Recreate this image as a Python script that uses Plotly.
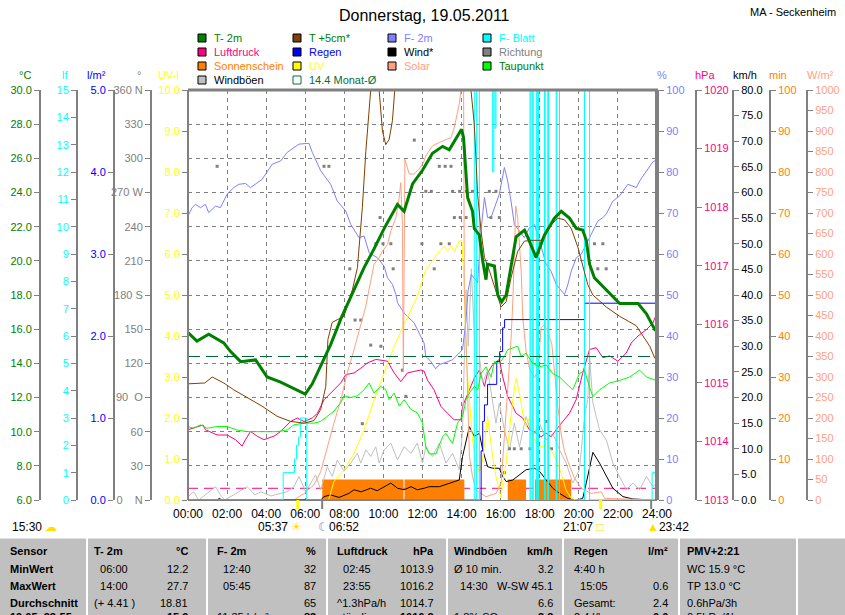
import plotly.graph_objects as go

# ---------------- data (x = hours since midnight) ----------------
time_labels = ["00:00", "02:00", "04:00", "06:00", "08:00", "10:00", "12:00",
               "14:00", "16:00", "18:00", "20:00", "22:00", "24:00"]

t2m_h = [0.00, 0.46, 1.06, 1.83, 2.17, 2.69, 3.46, 4.05, 4.74, 5.42,
         6.00, 6.36, 6.79, 7.30, 7.82, 8.33, 9.01, 9.52, 10.04, 10.72,
         11.06, 11.49, 12.00, 12.51, 13.03, 13.37, 14.00, 14.10, 14.20, 14.31,
         14.56, 14.65, 14.91, 15.08, 15.25, 15.33, 15.68, 15.85, 16.05, 16.28,
         16.79, 17.22, 17.38, 17.81, 18.24, 18.75, 19.10, 19.52, 19.87, 20.20,
         20.38, 20.55, 20.80, 21.15, 21.66, 22.09, 23.03, 23.46, 23.92]
t2m_v = [15.8, 15.3, 15.7, 15.2, 14.7, 14.1, 14.2, 13.2, 12.9, 12.5,
         12.2, 12.8, 13.9, 15.1, 16.6, 17.9, 19.6, 20.7, 21.9, 23.3,
         22.9, 24.5, 25.3, 26.3, 26.7, 26.5, 27.7, 27.2, 25.7, 23.7,
         22.9, 21.9, 21.5, 20.0, 18.9, 19.8, 19.7, 18.0, 17.6, 18.0,
         21.4, 21.8, 21.4, 20.2, 21.5, 22.5, 22.9, 22.5, 21.9, 21.8,
         21.2, 19.8, 19.0, 18.6, 18.0, 17.5, 17.5, 16.9, 15.9]

t5_h = [0.00, 0.86, 1.24, 1.83, 2.34, 3.19, 3.78, 4.56, 5.25, 5.94,
        6.45, 6.79, 7.05, 7.16, 7.38, 7.98, 8.41, 8.67, 8.92, 9.10,
        9.27, 9.35, 9.55, 9.78, 9.95, 10.12, 10.29, 10.46, 10.58, 11.00,
        12.00, 13.00, 14.00, 14.48, 14.65, 14.82, 15.00, 15.17, 15.43, 15.76,
        16.02, 16.28, 16.53, 16.87, 17.21, 17.56, 18.07, 18.41, 18.92, 19.27,
        19.61, 19.95, 20.20, 20.46, 20.72, 21.40, 22.09, 22.94, 23.63, 23.89]
t5_v = [12.8, 12.85, 13.2, 12.85, 12.45, 11.87, 11.5, 10.9, 10.6, 10.5,
        10.65, 11.3, 12.65, 15.4, 16.4, 16.75, 18.3, 19.6, 23.1, 26.4,
        29.2, 30.0, 31.5, 30.0, 27.6, 26.8, 27.1, 28.2, 30.0, 33.0,
        36.0, 37.0, 34.0, 30.0, 28.0, 23.9, 21.7, 20.2, 19.4, 18.2,
        17.3, 17.6, 19.0, 20.55, 21.15, 21.2, 21.2, 21.9, 22.5, 22.4,
        21.9, 20.8, 19.8, 18.6, 18.0, 17.3, 16.75, 16.2, 15.0, 14.3]

hum_h = [0.00, 0.21, 0.38, 0.64, 0.89, 1.06, 1.41, 1.66, 2.00, 2.34,
         2.60, 2.94, 3.20, 3.79, 4.31, 4.74, 5.08, 5.68, 6.19, 6.36,
         6.79, 7.30, 7.64, 8.07, 8.33, 8.75, 9.01, 9.27, 9.69, 10.04,
         10.21, 10.46, 10.64, 10.72, 11.06, 11.57, 12.08, 12.17, 12.43, 12.67,
         12.86, 13.54, 14.05, 14.23, 14.33, 14.50, 14.82, 15.00, 15.17, 15.33,
         15.51, 15.93, 16.19, 16.36, 16.53, 16.70, 16.96, 17.21, 17.47, 17.73,
         17.99, 18.33, 18.58, 18.84, 19.27, 19.44, 19.61, 19.87, 20.12, 20.38,
         20.63, 20.97, 21.23, 21.40, 21.74, 22.09, 22.51, 22.94, 23.11, 23.46,
         23.79, 24.00]
hum_v = [69.3, 71.3, 72.1, 71.3, 72.1, 70.1, 71.7, 71.3, 74.6, 76.2,
         77.0, 77.2, 76.2, 78.2, 81.9, 82.7, 84.8, 86.8, 87.0, 84.8,
         80.3, 77.0, 72.9, 70.5, 67.2, 64.0, 64.4, 60.3, 59.1, 57.0,
         54.2, 52.6, 50.1, 48.1, 45.6, 43.2, 38.3, 35.0, 33.8, 32.0,
         33.0, 34.2, 36.7, 44.0, 51.0, 55.0, 53.0, 66.0, 73.8, 68.9,
         68.9, 74.6, 81.1, 77.8, 72.9, 67.2, 65.6, 64.0, 66.4, 67.2,
         63.2, 57.5, 55.8, 52.6, 50.1, 52.6, 55.8, 59.1, 59.9, 62.3,
         64.8, 68.0, 68.9, 69.7, 72.9, 74.2, 77.0, 76.2, 77.8, 80.3,
         82.5, 83.0]

pres_h = [0.00, 0.77, 0.89, 1.49, 2.00, 2.43, 2.77, 2.94, 3.20, 3.54,
          3.88, 4.40, 4.74, 5.25, 5.59, 5.94, 6.36, 6.62, 6.96, 7.30,
          7.82, 8.07, 8.50, 8.84, 9.18, 9.61, 10.21, 10.55, 10.89, 11.23,
          11.57, 11.92, 12.08, 12.25, 12.59, 12.94, 13.28, 13.62, 13.97, 14.05,
          14.40, 14.65, 14.91, 15.17, 15.33, 15.59, 15.93, 16.10, 16.36, 16.79,
          17.13, 17.47, 17.82, 18.07, 18.33, 18.58, 18.84, 19.18, 19.52, 19.86,
          20.20, 20.55, 20.89, 21.23, 21.57, 22.00, 22.43, 22.68, 23.03, 23.46,
          23.79, 23.97]
pres_v = [1014.20, 1014.28, 1014.20, 1014.11, 1014.11, 1014.03, 1013.92, 1014.03, 1014.17, 1014.09,
          1014.03, 1014.09, 1014.17, 1014.34, 1014.40, 1014.34, 1014.40, 1014.48, 1014.71, 1014.83,
          1015.00, 1015.14, 1015.17, 1015.25, 1015.34, 1015.40, 1015.37, 1015.17, 1015.02, 1015.17,
          1015.20, 1015.22, 1015.20, 1015.05, 1014.88, 1014.60, 1014.48, 1014.37, 1014.37, 1014.60,
          1014.88, 1015.08, 1015.22, 1014.94, 1015.17, 1015.31, 1015.40, 1015.11, 1014.77, 1014.48,
          1014.40, 1014.20, 1014.14, 1014.08, 1014.14, 1014.08, 1014.20, 1014.34, 1014.48, 1014.71,
          1015.17, 1015.57, 1015.60, 1015.43, 1015.46, 1015.37, 1015.51, 1015.68, 1015.80, 1015.91,
          1016.02, 1016.17]

rain_h = [0.00, 14.90, 15.00, 15.08, 15.17, 15.33, 15.80, 15.95, 16.10, 16.20, 20.30, 24.00]
rain_v = [0.00, 0.00, 0.60, 0.96, 1.16, 1.41, 1.69, 1.81, 2.10, 2.20, 2.40, 2.40]

wind_h = [0.00, 1.49, 1.60, 1.75, 6.80, 6.95, 7.30, 7.73, 8.24, 8.50,
          8.86, 9.35, 9.68, 10.04, 10.38, 10.72, 11.06, 11.41, 11.74, 12.09,
          12.34, 12.86, 13.37, 13.88, 14.05, 14.40, 14.65, 14.91, 15.08, 15.33,
          15.59, 15.93, 16.10, 16.28, 16.62, 16.96, 17.30, 17.73, 17.99, 18.33,
          18.67, 19.01, 19.44, 19.87, 20.20, 20.38, 20.55, 20.72, 21.06, 21.41,
          21.74, 22.26, 22.77, 23.78, 24.00]
wind_v = [0.0, 0.0, 0.3, 0.0, 0.0, 0.65, 1.0, 0.5, 1.3, 2.0,
          1.6, 2.3, 1.8, 2.6, 3.3, 2.3, 2.0, 2.6, 2.0, 2.3,
          2.6, 2.6, 3.3, 3.9, 8.5, 14.3, 12.4, 13.0, 9.8, 6.5,
          6.2, 6.2, 4.6, 3.6, 3.9, 4.9, 5.9, 6.2, 5.6, 3.9,
          2.3, 1.3, 0.3, 0.0, 0.3, 3.3, 6.5, 9.3, 7.2, 4.6,
          2.3, 0.65, 0.2, 0.0, 0.0]

gust_h = [0.00, 0.29, 0.55, 1.41, 1.66, 1.88, 2.60, 3.03, 3.42, 3.73,
          4.24, 4.74, 5.06, 5.42, 5.68, 6.02, 6.53, 6.79, 7.13, 7.38,
          7.64, 7.98, 8.33, 8.67, 8.84, 9.10, 9.35, 9.61, 9.78, 10.04,
          10.38, 10.72, 11.06, 11.41, 11.74, 12.00, 12.17, 12.51, 12.86, 13.20,
          13.54, 13.88, 14.05, 14.23, 14.34, 14.50, 14.70, 14.91, 15.08, 15.33,
          15.59, 15.76, 15.93, 16.19, 16.45, 16.70, 16.96, 17.30, 17.64, 17.99,
          18.33, 18.67, 19.01, 19.35, 19.69, 20.03, 20.29, 20.46, 20.55, 20.72,
          21.06, 21.41, 21.74, 22.09, 22.43, 22.77, 23.11, 23.46, 23.79, 24.00]
gust_v = [0.65, 1.6, 0.0, 2.6, 1.0, 0.0, 1.6, 2.6, 1.0, 1.6,
          0.8, 1.3, 1.6, 2.6, 4.6, 1.6, 4.9, 2.0, 6.5, 4.6,
          7.8, 5.6, 7.2, 9.1, 7.2, 9.8, 8.5, 10.4, 7.2, 9.8,
          11.1, 7.8, 10.4, 9.1, 11.1, 7.2, 10.4, 8.5, 11.1, 7.2,
          9.1, 5.9, 13.7, 41.0, 30.0, 45.1, 28.0, 28.0, 22.8, 25.4,
          18.9, 15.0, 18.9, 13.7, 9.8, 15.0, 10.4, 16.3, 12.4, 15.0,
          11.7, 13.0, 9.8, 7.2, 3.3, 5.9, 16.3, 19.6, 28.0, 18.9,
          13.7, 11.7, 7.2, 4.6, 2.0, 3.3, 2.0, 4.6, 2.6, 3.3]

uv_h = [0.00, 7.20, 7.47, 7.98, 8.50, 9.01, 9.52, 10.04, 10.55, 10.97,
        11.41, 11.74, 12.05, 12.17, 12.51, 12.86, 13.11, 13.28, 13.46, 13.63,
        13.88, 14.02, 14.14, 14.23, 14.40, 14.56, 14.74, 14.91, 15.08, 15.25,
        15.33, 15.59, 15.76, 15.93, 16.02, 16.10, 16.28, 16.45, 16.62, 16.79,
        16.96, 17.13, 17.30, 17.47, 17.64, 17.82, 17.99, 18.33, 18.58, 18.84,
        19.10, 19.35, 19.61, 19.87, 24.00]
uv_v = [0.0, 0.0, 0.45, 0.73, 1.14, 1.71, 2.44, 3.10, 3.75, 4.20,
        4.65, 4.97, 5.46, 5.62, 5.83, 6.07, 6.19, 6.07, 6.19, 6.07,
        6.32, 6.32, 5.13, 3.59, 2.44, 1.47, 0.90, 0.69, 0.98, 1.63,
        2.04, 1.06, 0.57, 0.24, 0.05, 0.41, 0.90, 1.71, 2.44, 2.97,
        2.61, 2.12, 1.79, 2.00, 1.55, 1.39, 1.30, 1.30, 1.22, 0.98,
        0.65, 0.24, 0.04, 0.0, 0.0]

solar_h = [0.00, 5.42, 5.94, 6.45, 6.79, 7.13, 7.47, 7.82, 8.15, 8.50,
           8.84, 9.10, 9.27, 9.52, 9.78, 9.95, 10.21, 10.38, 10.64, 10.81,
           10.89, 10.97, 11.02, 11.10, 11.32, 11.57, 11.83, 12.05, 12.17, 12.51,
           12.86, 13.20, 13.46, 13.63, 13.79, 13.88, 13.97, 14.04, 14.10, 14.14,
           14.23, 14.31, 14.40, 14.56, 14.74, 15.25, 15.76, 16.02, 16.19, 16.36,
           16.53, 16.62, 16.70, 16.77, 16.87, 16.96, 17.05, 17.13, 17.30, 17.47,
           17.73, 17.90, 17.99, 18.07, 18.24, 18.41, 18.62, 18.75, 18.92, 19.10,
           19.27, 19.44, 19.78, 20.12, 20.63, 21.15, 21.32, 24.00]
solar_v = [0, 0, 16, 37, 69, 130, 188, 244, 310, 367,
           424, 473, 515, 575, 591, 607, 623, 656, 689, 738,
           774, 672, 314, 831, 795, 795, 807, 823, 839, 864,
           872, 878, 884, 909, 941, 966, 998, 1050, 1050, 513,
           391, 228, 106, 57, 24, 8, 16, 41, 147, 269,
           391, 481, 600, 717, 689, 632, 558, 444, 363, 322,
           298, 314, 363, 420, 428, 411, 379, 314, 232, 159,
           118, 94, 53, 29, 16, 20, 4, 0]

dew_h = [0.00, 0.29, 0.64, 0.97, 1.49, 2.00, 2.51, 3.03, 3.54, 4.05,
         4.56, 5.08, 5.42, 5.93, 6.45, 6.79, 7.13, 7.47, 7.82, 7.98,
         8.33, 8.67, 9.01, 9.27, 9.52, 9.87, 10.12, 10.29, 10.55, 10.81,
         11.06, 11.41, 11.74, 11.83, 12.00, 12.17, 12.34, 12.69, 13.03, 13.20,
         13.54, 13.79, 14.05, 14.23, 14.40, 14.65, 14.82, 15.00, 15.25, 15.51,
         15.68, 15.93, 16.19, 16.36, 16.62, 16.87, 17.05, 17.30, 17.64, 17.99,
         18.33, 18.67, 19.01, 19.35, 19.69, 20.03, 20.29, 20.55, 20.72, 21.06,
         21.57, 22.09, 22.60, 23.11, 23.46, 23.97]
dew_v = [10.3, 10.2, 10.4, 10.2, 10.3, 10.3, 10.1, 10.0, 10.0, 10.0,
         10.0, 10.1, 10.4, 10.5, 10.5, 10.6, 10.9, 11.2, 11.7, 12.1,
         12.0, 12.1, 12.45, 12.85, 12.26, 12.65, 12.45, 11.87, 12.26, 11.5,
         11.87, 11.3, 11.1, 10.9, 10.5, 9.1, 8.7, 8.7, 9.7, 9.9,
         9.3, 10.5, 10.9, 11.87, 12.26, 12.65, 12.45, 13.4, 13.8, 13.2,
         14.1, 14.0, 14.4, 14.8, 14.9, 15.0, 14.4, 14.6, 14.0, 13.8,
         13.9, 13.4, 13.2, 12.85, 12.45, 13.4, 13.6, 12.6, 12.05, 12.45,
         12.85, 13.0, 13.2, 13.6, 13.2, 13.0]

leaf_h = [0.00, 4.87, 5.45, 5.55, 5.65, 5.75, 6.08, 14.65, 14.77, 14.91,
          15.59, 15.65, 15.71, 15.76, 17.50, 17.55, 17.62, 17.67, 17.82, 17.86,
          17.90, 17.94, 18.24, 18.28, 18.41, 18.45, 18.84, 18.88, 19.01, 20.29,
          20.55, 23.75, 24.00]
leaf_v = [0, 1.0, 1.5, 2.0, 2.3, 3.0, 0, 15, 0, 15,
          12, 15, 13.6, 15, 0, 15, 0, 15, 0, 15,
          0, 15, 0, 15, 0, 15, 0, 15, 0, 15,
          0, 1.0, 1.0]

dir_h = [1.49, 6.96, 7.21, 8.28, 8.55, 8.84, 8.92, 9.35, 9.61, 9.83,
         9.87, 9.98, 10.38, 10.50, 10.97, 11.15, 11.58, 11.97, 12.17, 12.45,
         12.60, 12.86, 12.94, 13.16, 13.37, 13.46, 13.54, 13.63, 13.90, 13.93,
         14.23, 14.25, 14.56, 15.42, 15.50, 15.76, 15.93, 16.19, 16.45, 16.70,
         17.05, 17.50, 18.33, 18.60, 20.38, 20.80, 20.97, 21.23, 21.40]
dir_v = [293, 293, 293, 203, 158, 158, 67, 136, 225, 248,
         135, 225, 225, 203, 114, 91, 316, 225, 271, 271,
         203, 293, 225, 293, 225, 293, 271, 248, 271, 248,
         248, 271, 271, 271, 248, 271, 248, 24, 45, 45,
         45, 45, 69, 45, 225, 225, 203, 225, 203]

sun_start = [6.87, 11.08, 16.36, 17.75]
sun_end = [11.03, 14.14, 17.30, 19.61]
sun_min = [5, 5, 5, 5]

month_avg = 14.4       # °C
pres_ref = 1013.2      # hPa
sun_rise, sun_set = "05:37", "21:07"
moon_a, moon_b = "06:52", "23:42"
dir_labels = ["0\u00a0\u00a0\u00a0\u00a0N", "30", "60", "90\u00a0\u00a0O", "120", "150", "180 S",
              "210", "240", "270 W", "300", "330", "360 N"]

table_rows = [
    ["Sensor", "T- 2m", "°C", "F- 2m", "%", "Luftdruck", "hPa", "Windböen", "km/h", "Regen", "l/m²", "PMV+2:21"],
    ["MinWert", "  06:00", "12.2", "  12:40", "32", "  02:45", "1013.9", "Ø 10 min.", "3.2", "4:40 h", "", "WC 15.9 °C"],
    ["MaxWert", "  14:00", "27.7", "  05:45", "87", "  23:55", "1016.2", "  14:30", "W-SW 45.1", "  15:05", "0.6", "TP 13.0 °C"],
    ["Durchschnitt", "(+ 4.41 )", "18.81", "", "65", "^1.3hPa/h", "1014.7", "", "6.6", "Gesamt:", "2.4", "0.6hPa/3h"],
    ["19.05. 23:55", "", "15.9", "11:35 h/m²", "83", "ständig  ", "1016.2", "1.8% SO", "3.3", "2.4 l/h", "0.0", "0.5hPa/1h"],
]

# ---------------- layout helpers ----------------
W, H = 845, 615
FONT = "Liberation Sans, Arial, sans-serif"
GRAY = "#808080"


def px(x):
    return x / W


def py(y):
    return 1 - y / H


def hours(t):
    hh, mm = t.split(":")
    return int(hh) + int(mm) / 60


fig = go.Figure()


def line(x, y, axis, color, width=1, shape="linear", dash=None):
    fig.add_trace(go.Scatter(x=x, y=y, yaxis=axis, mode="lines", hoverinfo="skip",
                             line=dict(color=color, width=width, shape=shape, dash=dash)))


# traces, bottom layer first (one overlaid axis per unit)
line([0, 24], [pres_ref, pres_ref], "y", "#FF0080", dash="10px,6px")
line(pres_h, pres_v, "y", "#FF0080")
fig.add_trace(go.Bar(x=[(s + e) / 2 for s, e in zip(sun_start, sun_end)], y=sun_min,
                     width=[e - s for s, e in zip(sun_start, sun_end)], yaxis="y2",
                     marker=dict(color="#FF8000", line=dict(width=0)), hoverinfo="skip"))
line(gust_h, gust_v, "y3", "#C0C0C0")
line(wind_h, wind_v, "y3", "#000000")
fig.add_trace(go.Scatter(x=dir_h, y=dir_v, yaxis="y4", mode="markers", hoverinfo="skip",
                         marker=dict(symbol="square", size=3, color=GRAY)))
line(hum_h, hum_v, "y5", "#8080FF")
line(uv_h, uv_v, "y6", "#FFFF00")
line(solar_h, solar_v, "y7", "#FFA080")
line(rain_h, rain_v, "y8", "#0000FF", shape="hv")
line(leaf_h, leaf_v, "y9", "#00FFFF", shape="hv")
line(dew_h, dew_v, "y10", "#00FF00")
line(t5_h, t5_v, "y10", "#804000")
line(t2m_h, t2m_v, "y10", "#008000", width=3)
line([0, 24], [month_avg, month_avg], "y10", "#006633", dash="12px,6px")


def axis(rng, pos, side, color, vals, texts, lw=2, overlay=True):
    d = dict(range=rng, domain=[py(500), py(90)], anchor="free", position=px(pos), side=side,
             showline=True, linecolor=GRAY, linewidth=lw, ticks="outside", ticklen=5,
             tickcolor=GRAY, tickvals=vals, ticktext=texts, showgrid=False, zeroline=False,
             tickfont=dict(family=FONT, size=11, color=color), fixedrange=True)
    if overlay:
        d["overlaying"] = "y"
    return d


def nums(start, stop, step, fmt):
    vals = list(range(start, stop + 1, step))
    return vals, [fmt.format(v) for v in vals]


hpa_v, hpa_t = nums(1013, 1020, 1, "{}")
min_v, min_t = nums(0, 100, 10, "{}")
kmh_v, kmh_t = nums(0, 80, 5, "{:.1f}")
deg_v = list(range(0, 361, 30))
pct_v, pct_t = nums(0, 100, 10, "{}")
uv_tv, uv_tt = nums(0, 10, 1, "{:.1f}")
wm_v, wm_t = nums(0, 1000, 50, "{}")
lm_v, lm_t = nums(0, 5, 1, "{:.1f}")
lf_v, lf_t = nums(0, 15, 1, "{}")
tc_v, tc_t = nums(6, 30, 2, "{:.1f}")

y10 = axis([6, 30], 40, "left", "#008000", tc_v, tc_t)
y10.update(showgrid=True, gridcolor=GRAY, griddash="4px,4px", gridwidth=1)

fig.update_layout(
    width=W, height=H, template="none", showlegend=False,
    margin=dict(l=0, r=0, t=0, b=0),
    paper_bgcolor="white", plot_bgcolor="white",
    xaxis=dict(domain=[px(188), px(657)], range=[0, 24], anchor="y",
               tickvals=[hours(t) for t in time_labels], ticktext=time_labels,
               showgrid=True, gridcolor=GRAY, griddash="4px,4px", gridwidth=1,
               showline=True, linecolor=GRAY, linewidth=1, zeroline=False,
               ticks="outside", ticklen=3, tickcolor="rgba(0,0,0,0)",
               tickfont=dict(family=FONT, size=12, color="black"), fixedrange=True),
    yaxis=axis([1013, 1020], 696, "right", "#FF0080", hpa_v, hpa_t, overlay=False),
    yaxis2=axis([0, 100], 770, "right", "#FF8000", min_v, min_t),
    yaxis3=axis([0, 80], 733, "right", "#000000", kmh_v, kmh_t),
    yaxis4=axis([0, 360], 151, "left", GRAY, deg_v, dir_labels),
    yaxis5=axis([0, 100], 657, "right", "#8080FF", pct_v, pct_t, lw=4),
    yaxis6=axis([0, 10], 188, "left", "#FFFF00", uv_tv, uv_tt),
    yaxis7=axis([0, 1000], 807, "right", "#FFA080", wm_v, wm_t),
    yaxis8=axis([0, 5], 114, "left", "#0000FF", lm_v, lm_t),
    yaxis9=axis([0, 15], 77, "left", "#00FFFF", lf_v, lf_t),
    yaxis10=y10,
)

shapes = []
ann = []


def text(x, y, s, color="black", size=11, anchor="left", family=FONT):
    ann.append(dict(x=px(x), y=py(y), xref="paper", yref="paper", text=s,
                    showarrow=False, xanchor=anchor, yanchor="middle",
                    font=dict(family=family, size=size, color=color)))


def event(t, s, anchor, shift):
    ann.append(dict(x=hours(t), y=py(527), xref="x", yref="paper", showarrow=False,
                    xanchor=anchor, yanchor="middle", xshift=shift, text=s,
                    font=dict(family=FONT, size=12, color="black")))


# top frame
shapes.append(dict(type="line", xref="paper", yref="paper", x0=px(188), x1=px(658),
                   y0=py(90), y1=py(90), line=dict(color=GRAY, width=3)))

# title
text(424, 15, "Donnerstag, 19.05.2011", size=16, anchor="center")
text(838, 12, "MA - Seckenheim", size=11, anchor="right")

# axis unit titles
for label, x, color in [("°C", 25, "#008000"), ("lf", 65, "#00FFFF"), ("l/m²", 96, "#0000FF"),
                        ("°", 139, GRAY), ("UV-I", 168, "#FFFF00"), ("%", 662, "#8080FF"),
                        ("hPa", 705, "#FF0080"), ("km/h", 745, "#000000"), ("min", 778, "#FF8000"),
                        ("W/m²", 820, "#FFA080")]:
    text(x, 75, label, color=color, anchor="center")

# legend (4 columns)
legend = [
    (198, 38, "T- 2m", "#008000", "#008000"), (198, 52, "Luftdruck", "#FF0080", "#FF0080"),
    (198, 66, "Sonnenschein", "#FF8000", "#FF8000"), (198, 80, "Windböen", "#C0C0C0", "#000000"),
    (293, 38, "T +5cm*", "#804000", "#008000"), (293, 52, "Regen", "#0000FF", "#0000FF"),
    (293, 66, "UV", "#FFFF00", "#FFFF00"), (293, 80, f"{month_avg} Monat-Ø", None, "#007040"),
    (388, 38, "F- 2m", "#8080FF", "#8080FF"), (388, 52, "Wind*", "#000000", "#000000"),
    (388, 66, "Solar", "#FFA080", "#FFA080"),
    (483, 38, "F- Blatt", "#00FFFF", "#00FFFF"), (483, 52, "Richtung", GRAY, GRAY),
    (483, 66, "Taupunkt", "#00FF00", "#008000"),
]
for x, y, label, box, tcolor in legend:
    shapes.append(dict(type="rect", xref="paper", yref="paper", x0=px(x), x1=px(x + 8),
                       y0=py(y + 4), y1=py(y - 4), fillcolor=box or "rgba(0,0,0,0)",
                       line=dict(color="#000000" if box else "#007040", width=1)))
    text(x + 14, y, label, color=tcolor)

# sun / moon events below the time axis
for t, color, w in [(sun_rise, "#FFFF00", 3), (sun_set, "#FFFF00", 3), (moon_a, GRAY, 2), (moon_b, GRAY, 2)]:
    shapes.append(dict(type="line", xref="x", yref="paper", x0=hours(t), x1=hours(t),
                       y0=py(500), y1=py(509), line=dict(color=color, width=w)))
event(sun_rise, sun_rise + " <span style='color:#FFE000'>☀</span>", "right", 6)
event(sun_set, sun_set + " <span style='color:#FFE000'>□</span>", "right", 5)
event(moon_a, "<span style='color:#8080C0'>☾</span>" + moon_a, "left", -6)
event(moon_b, "<span style='color:#FFE000'>▲</span>" + moon_b, "left", -6)
text(10, 527, "15:30 <span style='color:#FFE000'>☁</span>", size=12)

# bottom table
shapes.append(dict(type="rect", xref="paper", yref="paper", x0=0, x1=1, y0=py(615), y1=py(538),
                   fillcolor="#C0C0C0", line=dict(width=0), layer="below"))
shapes.append(dict(type="line", xref="paper", yref="paper", x0=0, x1=1, y0=py(538), y1=py(538),
                   line=dict(color="white", width=1)))
for x in [87, 207, 327, 447, 563, 679, 797]:
    shapes.append(dict(type="line", xref="paper", yref="paper", x0=px(x), x1=px(x),
                       y0=py(615), y1=py(538), line=dict(color="white", width=2)))

left_x = [8, 92, 215, 335, 452, 572, 685]
right_x = [190, 318, 436, 555, 670]
row_y = [551, 569, 586, 603, 617]
for r, (row, y) in enumerate(zip(table_rows, row_y)):
    bold_all = r in (0, 4)
    cells = [(left_x[0], row[0], "left", True)]
    for c in range(5):
        cells.append((left_x[c + 1], row[1 + 2 * c], "left", r == 0))
        cells.append((right_x[c], row[2 + 2 * c], "right", bold_all))
    cells.append((left_x[6], row[11], "left", r == 0))
    for x, s, anchor, bold in cells:
        if not s:
            continue
        s = s.replace("  ", "\u00a0\u00a0")
        text(x, y, f"<b>{s}</b>" if bold else s, size=11, anchor=anchor)

fig.update_layout(shapes=shapes, annotations=ann)

# drop the default 8px page margin so the figure fills the window exactly
fig.write_html("out.html", config={"displayModeBar": False},
               post_script="document.body.style.margin='0';")
